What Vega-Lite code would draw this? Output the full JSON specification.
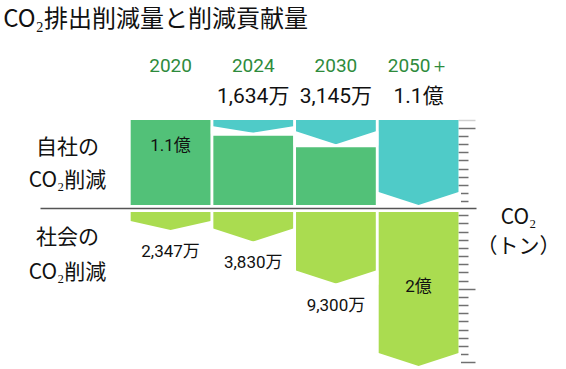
{
  "$schema": "https://vega.github.io/schema/vega-lite/v6.json",
  "background": "white",
  "padding": {"left": 3, "top": 8, "right": 0, "bottom": 0},
  "config": {
    "font": "Roboto, Noto Sans CJK JP",
    "view": {"stroke": null},
    "concat": {"spacing": -1},
    "axis": {"grid": false}
  },
  "title": {"text": "CO₂排出削減量と削減貢献量", "anchor": "start", "fontSize": 24, "fontWeight": "normal", "font": "Noto Sans CJK JP", "color": "#111111", "offset": 24, "dx": -25},
  "datasets": {
    "self": [
      {"year": "2020", "reduction": 0, "baseline": 110, "total": "", "inner": "1.1億"},
      {"year": "2024", "reduction": 16.34, "baseline": 110, "total": "1,634万", "inner": ""},
      {"year": "2030", "reduction": 31.45, "baseline": 110, "total": "3,145万", "inner": ""},
      {"year": "2050＋", "reduction": 110, "baseline": 110, "total": "1.1億", "inner": ""}
    ],
    "society": [
      {"year": "2020", "contribution": 23.47, "label": "2,347万"},
      {"year": "2024", "contribution": 38.30, "label": "3,830万"},
      {"year": "2030", "contribution": 93.00, "label": "9,300万"},
      {"year": "2050＋", "contribution": 200, "label": "2億"}
    ]
  },
  "vconcat": [
    {
      "width": 436,
      "height": 85,
      "data": {"name": "self"},
      "encoding": {
        "x": {
          "field": "year", "type": "nominal", "sort": null,
          "scale": {"domain": ["2020", "2024", "2030", "2050＋"], "paddingInner": 0.035, "paddingOuter": 0.6545, "align": 0.838},
          "axis": {"orient": "top", "title": null, "domain": false, "ticks": false, "tickSize": 0, "labelAngle": 0, "labelColor": "#2e8b3c", "labelFontSize": 19, "labelFont": "Roboto", "labelBaseline": "alphabetic", "labelPadding": 49}
        }
      },
      "resolve": {"scale": {"y": "shared"}, "axis": {"y": "independent"}},
      "layer": [
        {
          "transform": [{"filter": "datum.reduction < datum.baseline"}],
          "mark": {"type": "bar", "color": "#52c178", "yOffset": {"expr": "datum.reduction > 0 ? 3 : 0"}},
          "encoding": {
            "y": {"field": "reduction", "type": "quantitative", "scale": {"domain": [0, 110], "reverse": true, "nice": false, "zero": true},
              "axis": {"orient": "left", "labels": false, "ticks": false, "domain": false, "title": ["自社の", "CO₂削減"], "titleAngle": 0, "titleX": 27, "titleY": 27, "titleAlign": "center", "titleBaseline": "middle", "titleFontSize": 21, "titleFontWeight": "normal", "titleFont": "Noto Sans CJK JP", "titleColor": "#111111", "titleLineHeight": 33}},
            "y2": {"field": "baseline"}
          }
        },
        {
          "transform": [{"filter": "datum.reduction > 0"}],
          "mark": {"type": "bar", "color": "#4fcbc8"},
          "encoding": {
            "y": {"field": "reduction", "type": "quantitative",
              "axis": {"orient": "right", "offset": -18, "title": null, "labels": false, "domain": false, "values": [0, 10.35, 20.9, 31.4, 41.9, 52.4, 62.9, 73.4, 83.9, 94.4, 104.9], "tickWidth": 1.5,
                "tickColor": {"condition": {"test": "datum.value == 0", "value": "#d0d0d0"}, "value": "#707070"},
                "tickSize": {"condition": {"test": "datum.value < 15", "value": 17}, "value": 10}}}
          }
        },
        {
          "transform": [{"filter": "datum.reduction > 0"}],
          "mark": {"type": "point", "filled": true, "fill": "white", "opacity": 1, "strokeWidth": 0, "size": 6400},
          "encoding": {
            "y": {"field": "reduction", "type": "quantitative", "axis": null},
            "shape": {
              "condition": {"test": "datum.reduction < 20", "value": "M-1.06,-0.158L-1,-0.158L0,0L1,-0.158L1.06,-0.158L1.06,0.03L-1.06,0.03Z"},
              "value": "M-1.06,-0.325L-1,-0.325L0,0L1,-0.325L1.06,-0.325L1.06,0.03L-1.06,0.03Z"
            }
          }
        },
        {
          "transform": [{"filter": "datum.total != ''"}],
          "mark": {"type": "text", "fontSize": 21, "baseline": "middle", "dy": -23, "color": "#111111"},
          "encoding": {
            "y": {"datum": 0, "type": "quantitative", "axis": null},
            "text": {"field": "total"}
          }
        },
        {
          "transform": [{"filter": "datum.inner != ''"}],
          "mark": {"type": "text", "fontSize": 17, "baseline": "middle", "dy": 26, "color": "#111111"},
          "encoding": {
            "y": {"datum": 0, "type": "quantitative", "axis": null},
            "text": {"field": "inner"}
          }
        }
      ]
    },
    {
      "width": 436,
      "height": 154,
      "data": {"name": "society"},
      "encoding": {
        "x": {
          "field": "year", "type": "nominal", "sort": null,
          "scale": {"domain": ["2020", "2024", "2030", "2050＋"], "paddingInner": 0.035, "paddingOuter": 0.6545, "align": 0.838},
          "axis": {"orient": "top", "title": null, "labels": false, "ticks": false, "domain": true, "domainColor": "#555555", "domainWidth": 1.5, "offset": 4}
        }
      },
      "resolve": {"scale": {"y": "shared"}, "axis": {"y": "independent"}},
      "layer": [
        {
          "mark": {"type": "bar", "color": "#aadc50"},
          "encoding": {
            "y": {"field": "contribution", "type": "quantitative", "scale": {"domain": [0, 200], "reverse": true, "nice": false},
              "axis": {"orient": "left", "labels": false, "ticks": false, "domain": false, "title": ["社会の", "CO₂削減"], "titleAngle": 0, "titleX": 27, "titleY": 25, "titleAlign": "center", "titleBaseline": "middle", "titleFontSize": 21, "titleFontWeight": "normal", "titleFont": "Noto Sans CJK JP", "titleColor": "#111111", "titleLineHeight": 35}}
          }
        },
        {
          "mark": {"type": "point", "filled": true, "fill": "white", "opacity": 1, "strokeWidth": 0, "size": 6400},
          "encoding": {
            "y": {"field": "contribution", "type": "quantitative",
              "axis": {"orient": "right", "offset": -18, "labels": false, "domain": false, "values": [4.3, 14.9, 25.5, 36.1, 46.7, 57.3, 67.9, 78.5, 89.1, 99.7, 110.3, 120.9, 131.5, 142.1, 152.7, 163.3, 173.9, 184.5, 195.1], "tickWidth": 1.5, "tickColor": "#707070",
                "tickSize": {"condition": {"test": "(datum.value > 99 && datum.value < 101) || datum.value > 194", "value": 17}, "value": 10},
                "title": ["CO₂", "（トン）"], "titleAngle": 0, "titleX": 60, "titleY": 5, "titleAlign": "center", "titleBaseline": "middle", "titleFontSize": 21, "titleFontWeight": "normal", "titleFont": "Noto Sans CJK JP", "titleColor": "#111111", "titleLineHeight": 29}},
            "shape": {
              "condition": {"test": "datum.contribution < 30", "value": "M-1.06,-0.225L-1,-0.225L0,0L1,-0.225L1.06,-0.225L1.06,0.03L-1.06,0.03Z"},
              "value": "M-1.06,-0.325L-1,-0.325L0,0L1,-0.325L1.06,-0.325L1.06,0.03L-1.06,0.03Z"
            }
          }
        },
        {
          "transform": [{"filter": "datum.contribution < 150"}],
          "mark": {"type": "text", "fontSize": 17, "baseline": "middle", "dy": 22, "color": "#111111"},
          "encoding": {
            "y": {"field": "contribution", "type": "quantitative", "axis": null},
            "text": {"field": "label"}
          }
        },
        {
          "transform": [{"filter": "datum.contribution >= 150"}],
          "mark": {"type": "text", "fontSize": 17, "baseline": "middle", "dy": -79, "color": "#111111"},
          "encoding": {
            "y": {"field": "contribution", "type": "quantitative", "axis": null},
            "text": {"field": "label"}
          }
        }
      ]
    }
  ]
}
